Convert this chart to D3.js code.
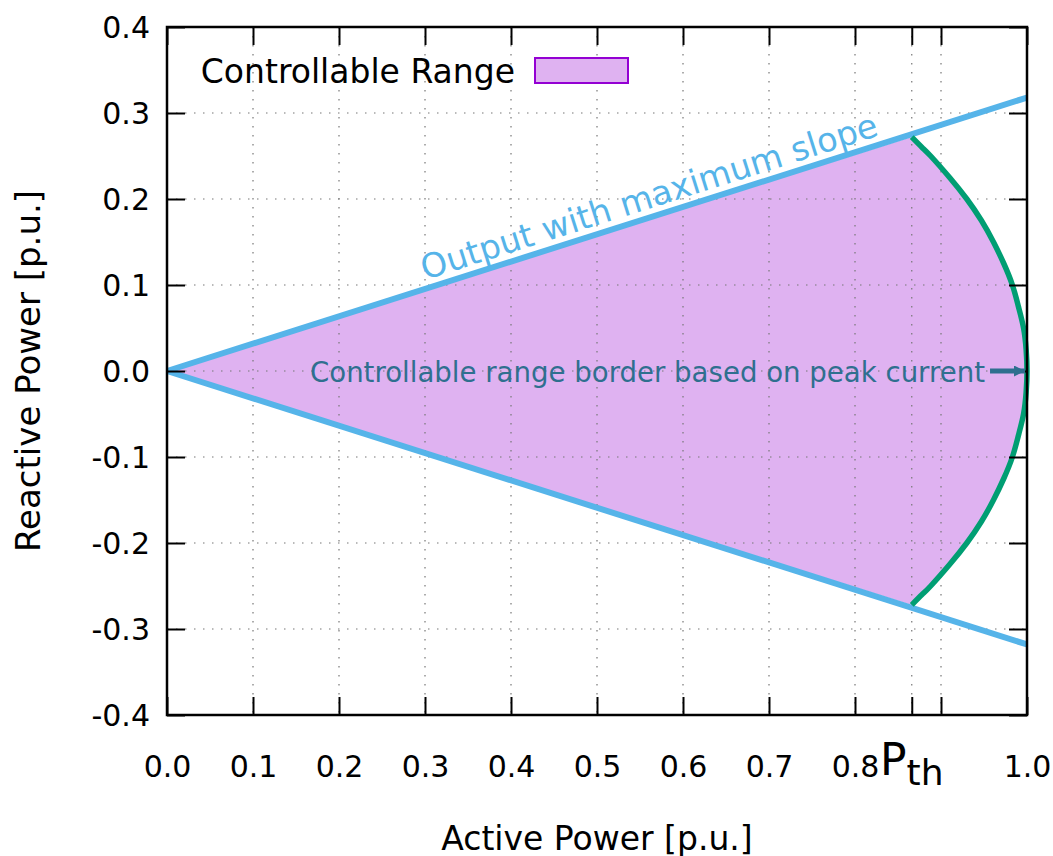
<!DOCTYPE html>
<html>
<head>
<meta charset="utf-8">
<script src="https://cdn.jsdelivr.net/npm/d3@7"></script>
<style>
  body { margin: 0; background: #fff; }
  text { font-family: "DejaVu Sans", sans-serif; }
</style>
</head>
<body>
<div id="chart"></div>
<script>
// axis ticks
var xTickVals = [0, 0.1, 0.2, 0.3, 0.4, 0.5, 0.6, 0.7, 0.8, 0.866, 0.9, 1.0];
var xTickText = ["0.0", "0.1", "0.2", "0.3", "0.4", "0.5", "0.6", "0.7", "0.8", "", "", "1.0"];
var yTickVals = [-0.4, -0.3, -0.2, -0.1, 0, 0.1, 0.2, 0.3, 0.4];
var yTickText = ["-0.4", "-0.3", "-0.2", "-0.1", "0.0", "0.1", "0.2", "0.3", "0.4"];
var pth = 0.866;

// output with maximum slope (upper and lower line)
var slopeP = [0, 1.0];
var slopeQ = [0, 0.318];

// controllable range border based on peak current
var borderP = [0.866, 0.878, 0.888, 0.910, 0.930, 0.947, 0.961, 0.973, 0.983, 0.990, 0.996, 0.999, 1.0,
	0.999, 0.996, 0.990, 0.983, 0.973, 0.961, 0.947, 0.930, 0.910, 0.888, 0.878, 0.866];
var borderQ = [0.272, 0.26, 0.25, 0.225, 0.2, 0.175, 0.15, 0.125, 0.1, 0.075, 0.05, 0.025, 0,
	-0.025, -0.05, -0.075, -0.1, -0.125, -0.15, -0.175, -0.2, -0.225, -0.25, -0.26, -0.272];

// annotation arrow
var arrowP = [0.957, 1.0];
var arrowQ = [0, 0];

var W = 1053, H = 856;
var margin = { top: 27, right: 26, bottom: 141, left: 167 };

var svg = d3.select("#chart").append("svg")
	.attr("width", W)
	.attr("height", H);

var x = d3.scaleLinear().domain([0, 1]).range([margin.left, W - margin.right]);
var y = d3.scaleLinear().domain([-0.4, 0.4]).range([H - margin.bottom, margin.top]);

var blue = "#56b4e9", green = "#009e73", fillCol = "#dfb2f1", noteCol = "#2f6f8f";

// fill of the controllable range
var arcLine = d3.line()
	.x(function (d) { return x(d[0]); })
	.y(function (d) { return y(d[1]); })
	.curve(d3.curveNatural);
var arcPts = borderP.map(function (p, i) { return [p, borderQ[i]]; });
var arcPath = arcLine(arcPts);

svg.append("path")
	.attr("d", "M" + x(0) + "," + y(0) + "L" + arcPath.slice(1) + "Z")
	.attr("fill", fillCol);

// grid
var grid = svg.append("g").attr("stroke", "#777").attr("stroke-width", 1.2).attr("stroke-dasharray", "1.5,7.5");
grid.selectAll("line.gx").data(xTickVals.slice(1, -1)).enter().append("line")
	.attr("x1", function (d) { return x(d); }).attr("x2", function (d) { return x(d); })
	.attr("y1", y(0.4)).attr("y2", y(-0.4));
grid.selectAll("line.gy").data(yTickVals.slice(1, -1)).enter().append("line")
	.attr("y1", function (d) { return y(d); }).attr("y2", function (d) { return y(d); })
	.attr("x1", x(0)).attr("x2", x(1));

// slope lines
[1, -1].forEach(function (s) {
	svg.append("line")
		.attr("x1", x(slopeP[0])).attr("y1", y(s * slopeQ[0]))
		.attr("x2", x(slopeP[1])).attr("y2", y(s * slopeQ[1]))
		.attr("stroke", blue).attr("stroke-width", 6);
});

// border arc
svg.append("path")
	.attr("d", arcPath)
	.attr("fill", "none")
	.attr("stroke", green)
	.attr("stroke-width", 5.5);

// axes (ticks inward, mirrored)
var fs = "30px";
var axB = svg.append("g").attr("transform", "translate(0," + y(-0.4) + ")")
	.call(d3.axisBottom(x).tickValues(xTickVals).tickSize(-18).tickPadding(0)
		.tickFormat(function (d, i) { return xTickText[i]; }));
axB.selectAll("text").attr("y", 62).attr("dy", null).style("font-size", fs);

svg.append("g").attr("transform", "translate(0," + y(0.4) + ")")
	.call(d3.axisTop(x).tickValues(xTickVals).tickSize(-18).tickFormat(""));

var axL = svg.append("g").attr("transform", "translate(" + x(0) + ",0)")
	.call(d3.axisLeft(y).tickValues(yTickVals).tickSize(-18).tickPadding(17)
		.tickFormat(function (d, i) { return yTickText[i]; }));
axL.selectAll("text").style("font-size", fs).attr("dy", "0.36em");

svg.append("g").attr("transform", "translate(" + x(1) + ",0)")
	.call(d3.axisRight(y).tickValues(yTickVals).tickSize(-18).tickFormat(""));

svg.selectAll(".domain").remove();
svg.selectAll(".tick line").attr("stroke", "#000").attr("stroke-width", 2);
svg.selectAll(".tick text").attr("fill", "#000");

// border
svg.append("rect")
	.attr("x", x(0)).attr("y", y(0.4))
	.attr("width", x(1) - x(0)).attr("height", y(-0.4) - y(0.4))
	.attr("fill", "none").attr("stroke", "#000").attr("stroke-width", 2.5);

// P_th label
var pt = svg.append("text")
	.attr("x", x(pth)).attr("y", y(-0.4) + 60)
	.attr("text-anchor", "middle")
	.style("font-size", "44px");
pt.append("tspan").text("P");
pt.append("tspan").attr("dy", 10).style("font-size", "36px").text("th");

// axis titles
svg.append("text")
	.attr("x", (x(0) + x(1)) / 2).attr("y", 850)
	.attr("text-anchor", "middle").style("font-size", "33px")
	.text("Active Power [p.u.]");
svg.append("text")
	.attr("transform", "translate(40," + y(0) + ") rotate(-90)")
	.attr("text-anchor", "middle").style("font-size", "34px")
	.text("Reactive Power [p.u.]");

// legend
svg.append("text")
	.attr("x", 515).attr("y", 83)
	.attr("text-anchor", "end").style("font-size", "33px")
	.text("Controllable Range");
svg.append("rect")
	.attr("x", 535).attr("y", 58).attr("width", 93).attr("height", 25)
	.attr("fill", fillCol).attr("stroke", "#9400d3").attr("stroke-width", 2);

// slope label along the upper line
var ang = Math.atan2(y(0) - y(slopeQ[1]), x(slopeP[1]) - x(slopeP[0])) * 180 / Math.PI;
var lp = 0.300;
svg.append("text")
	.attr("transform", "translate(" + x(lp) + "," + (y(lp * slopeQ[1] / slopeP[1]) - 9) + ") rotate(" + (-ang) + ")")
	.attr("fill", blue).style("font-size", "33.5px")
	.text("Output with maximum slope");

// annotation + arrow
svg.append("text")
	.attr("x", x(arrowP[0]) - 5).attr("y", y(0) + 11)
	.attr("text-anchor", "end").attr("fill", noteCol).style("font-size", "27.6px")
	.text("Controllable range border based on peak current");

svg.append("defs").append("marker")
	.attr("id", "head").attr("viewBox", "0 0 10 10")
	.attr("refX", 10).attr("refY", 5)
	.attr("markerUnits", "userSpaceOnUse")
	.attr("markerWidth", 12).attr("markerHeight", 11)
	.attr("orient", "auto")
	.append("path").attr("d", "M0,0L10,5L0,10Z").attr("fill", noteCol);
svg.append("line")
	.attr("x1", x(arrowP[0])).attr("y1", y(arrowQ[0]))
	.attr("x2", x(arrowP[1]) - 2).attr("y2", y(arrowQ[1]))
	.attr("stroke", noteCol).attr("stroke-width", 5)
	.attr("marker-end", "url(#head)");
</script>
</body>
</html>
